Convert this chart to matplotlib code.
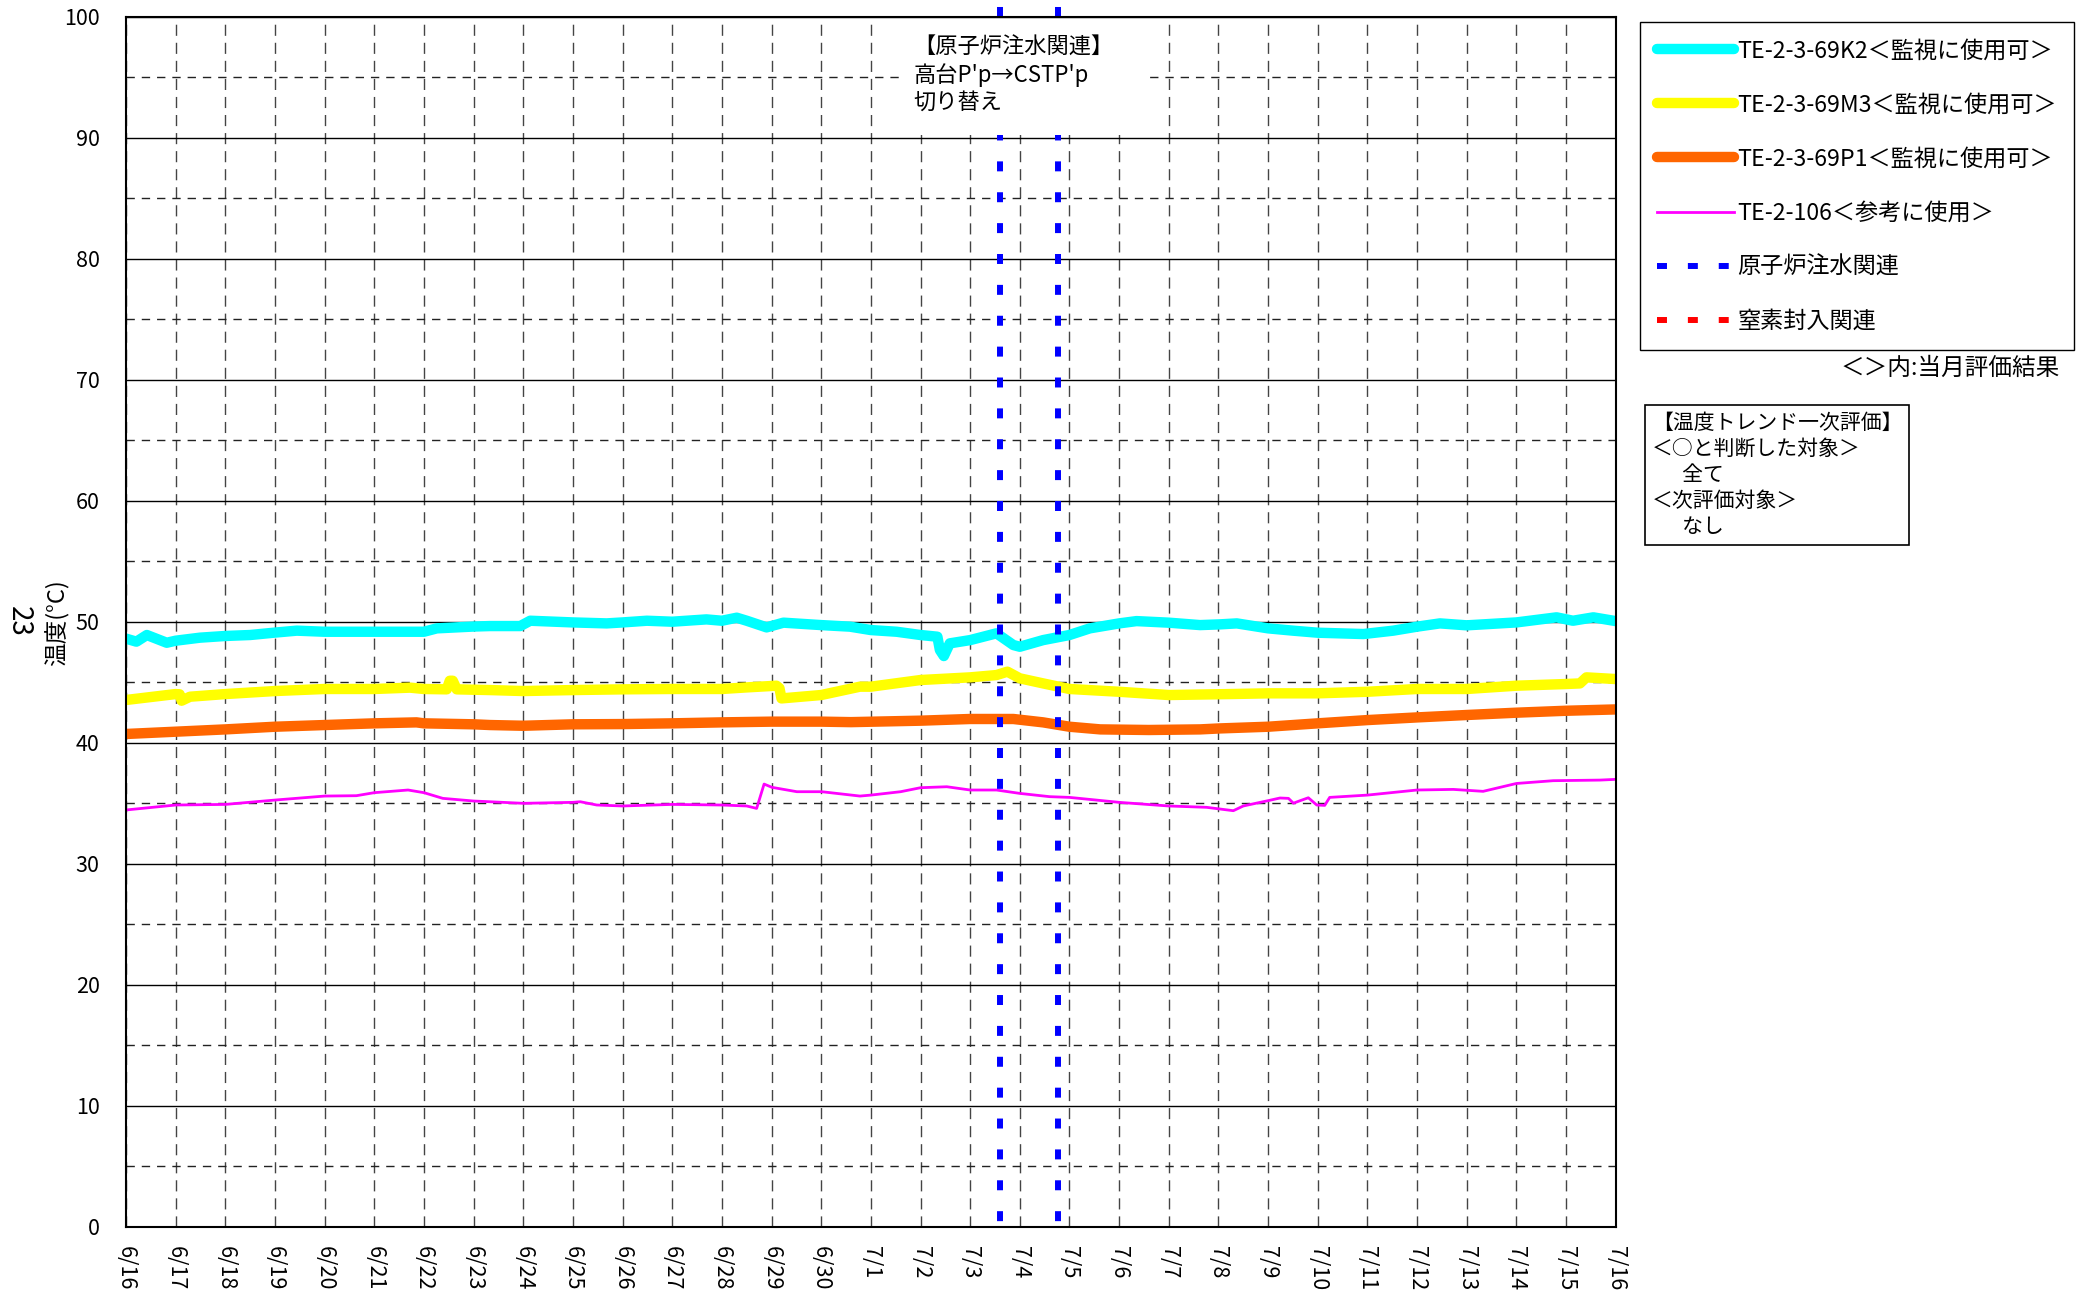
# -*- coding: utf-8 -*-

"""Temperature trend chart (TE-2-3-69K2 / M3 / P1, TE-2-106)."""

import matplotlib
matplotlib.use('Agg')
import matplotlib.pyplot as plt
from matplotlib.lines import Line2D
from matplotlib.patches import Rectangle
from matplotlib.ticker import MultipleLocator

plt.rcParams['font.family'] = ['Noto Sans CJK JP', 'DejaVu Sans']

# x values are days elapsed since 6/16 0:00
date_labels = ['6/16', '6/17', '6/18', '6/19', '6/20', '6/21', '6/22', '6/23',
               '6/24', '6/25', '6/26', '6/27', '6/28', '6/29', '6/30', '7/1',
               '7/2', '7/3', '7/4', '7/5', '7/6', '7/7', '7/8', '7/9', '7/10',
               '7/11', '7/12', '7/13', '7/14', '7/15', '7/16']

k2_days = [0, 0.21, 0.42, 0.82, 1.0, 1.49, 2.0, 2.5, 3.0, 3.44, 4.0, 5.0, 5.72,
           6.0, 6.26, 7.0, 7.33, 7.94, 8.14, 9.0, 9.68, 10.0, 10.49, 11.0,
           11.69, 12.0, 12.3, 12.5, 12.9, 13.24, 14.0, 14.58, 15.0, 15.52, 16.0,
           16.34, 16.39, 16.47, 16.59, 17.0, 17.53, 17.87, 18.0, 18.47, 19.0,
           19.41, 20.0, 20.35, 21.0, 21.63, 22.03, 22.37, 23.0, 23.5, 24.0,
           24.92, 25.52, 26.0, 26.46, 27.0, 28.0, 28.81, 29.14, 29.55, 30.0]
k2_temp = [48.6, 48.35, 48.9, 48.26, 48.43, 48.68, 48.82, 48.9, 49.1, 49.26,
           49.17, 49.17, 49.17, 49.17, 49.45, 49.6, 49.64, 49.64, 50.08, 49.94,
           49.86, 49.94, 50.08, 50.0, 50.19, 50.08, 50.33, 50.08, 49.53, 49.92,
           49.72, 49.59, 49.31, 49.17, 48.9, 48.76, 47.66, 47.16, 48.21, 48.48,
           49.04, 48.07, 47.93, 48.48, 48.9, 49.45, 49.86, 50.05, 49.92, 49.72,
           49.78, 49.86, 49.45, 49.26, 49.09, 48.98, 49.26, 49.59, 49.86, 49.7,
           49.94, 50.36, 50.08, 50.36, 50.05]

m3_days = [0, 1.0, 1.08, 1.12, 1.29, 2.0, 3.0, 4.0, 5.0, 5.72, 6.0, 6.46, 6.52,
           6.58, 6.66, 7.33, 8.0, 9.0, 10.0, 11.0, 12.0, 12.5, 13.1, 13.16,
           13.2, 14.0, 14.78, 15.0, 16.0, 17.0, 17.53, 17.75, 18.0, 18.47,
           19.0, 20.0, 21.0, 22.23, 23.0, 24.0, 25.0, 26.0, 27.0, 28.0, 29.0,
           29.28, 29.41, 30.0]
m3_temp = [43.53, 44.02, 44.0, 43.47, 43.8, 44.02, 44.27, 44.44, 44.44, 44.55,
           44.44, 44.41, 45.12, 45.12, 44.41, 44.35, 44.27, 44.35, 44.41,
           44.44, 44.44, 44.57, 44.71, 44.5, 43.66, 43.94, 44.63, 44.63, 45.18,
           45.4, 45.59, 45.87, 45.32, 44.9, 44.44, 44.21, 43.94, 44.02, 44.08,
           44.08, 44.21, 44.44, 44.44, 44.71, 44.85, 44.9, 45.4, 45.26]

p1_days = [0, 1, 2, 3, 4, 5, 5.85, 6, 7, 7.33, 8, 9, 10, 11, 12, 13, 14, 14.6,
           16, 17, 17.87, 18.47, 19, 19.62, 20.6, 21.63, 22.03, 23, 24, 25, 26,
           27, 28, 29, 30]
p1_temp = [40.72, 40.91, 41.1, 41.32, 41.46, 41.6, 41.68, 41.6, 41.52, 41.46,
           41.4, 41.52, 41.54, 41.6, 41.68, 41.74, 41.74, 41.7, 41.82, 41.96,
           41.96, 41.68, 41.32, 41.1, 41.05, 41.1, 41.18, 41.32, 41.6, 41.87,
           42.09, 42.29, 42.48, 42.64, 42.75]

te106_days = [0, 1, 2, 3, 4, 4.64, 5, 5.68, 6, 6.38, 7, 7.33, 8, 9, 9.15, 9.48,
              10, 11, 12, 12.5, 12.7, 12.85, 13.01, 13.51, 14.01, 14.78, 15.0,
              15.6, 16.0, 16.53, 17.0, 17.53, 18.0, 18.6, 19.0, 20.0, 21.0,
              21.76, 22.3, 22.5, 23.0, 23.24, 23.41, 23.51, 23.64, 23.81, 23.98,
              24.14, 24.24, 25.0, 26.0, 26.73, 27.33, 28.0, 28.74, 29.68, 30.0]
te106_temp = [34.44, 34.85, 34.9, 35.26, 35.59, 35.62, 35.87, 36.09, 35.87,
              35.4, 35.18, 35.12, 34.99, 35.07, 35.12, 34.85, 34.77, 34.9,
              34.85, 34.77, 34.57, 36.58, 36.31, 35.95, 35.95, 35.59, 35.67,
              35.95, 36.28, 36.36, 36.09, 36.09, 35.81, 35.54, 35.48, 35.07,
              34.77, 34.66, 34.38, 34.77, 35.21, 35.43, 35.4, 35.0, 35.2, 35.45,
              34.85, 34.82, 35.48, 35.67, 36.09, 36.14, 35.98, 36.63, 36.86,
              36.91, 36.97]

# reactor water injection events (days since 6/16)
injection_events = [17.6, 18.76]

series_labels = ['TE-2-3-69K2＜監視に使用可＞',
                 'TE-2-3-69M3＜監視に使用可＞',
                 'TE-2-3-69P1＜監視に使用可＞',
                 'TE-2-106＜参考に使用＞',
                 '原子炉注水関連',
                 '窒素封入関連']

event_note = "【原子炉注水関連】\n高台P'p→CSTP'p\n切り替え"
evaluation_note = ('【温度トレンド一次評価】\n＜○と判断した対象＞\n\u3000  全て\n'
                   '＜次評価対象＞\n\u3000  なし')

W, H = 2093, 1301
EVENT_DASH = (1.67, 3.5)


def plot_trend():
    """Draw the temperature trend chart."""
    fig = plt.figure(figsize=(W / 100, H / 100), dpi=100)
    ax = fig.add_axes([126 / W, (H - 1226.7) / H, 1489.7 / W, 1210 / H])

    ax.set_xlim(0, 30)
    ax.set_ylim(0, 100)

    ax.set_xticks(range(len(date_labels)))
    ax.set_xticklabels(date_labels, rotation=270, va='top', ha='center')
    ax.yaxis.set_major_locator(MultipleLocator(10))
    ax.yaxis.set_minor_locator(MultipleLocator(5))
    ax.tick_params(axis='y', which='both', length=0, pad=19, labelsize=15.5)
    ax.tick_params(axis='x', length=0, pad=14, labelsize=15.5)

    # grid
    ax.yaxis.grid(True, which='major', color='black', linewidth=1.0, zorder=1)
    ax.yaxis.grid(True, which='minor', color='#222222', linewidth=1.0,
                  linestyle=(0, (6, 5)), zorder=1)
    ax.xaxis.grid(True, which='major', color='#444444', linewidth=1.0,
                  linestyle=(0, (8, 5)), zorder=1)
    ax.set_axisbelow(True)
    for spine in ax.spines.values():
        spine.set_color('black')
        spine.set_linewidth(1.5)
        spine.set_zorder(6)

    lk2, = ax.plot(k2_days, k2_temp, color='#00FFFF', linewidth=7.5,
                   solid_capstyle='round', solid_joinstyle='round', zorder=3)
    lm3, = ax.plot(m3_days, m3_temp, color='#FFFF00', linewidth=7.5,
                   solid_capstyle='round', solid_joinstyle='round', zorder=3)
    lp1, = ax.plot(p1_days, p1_temp, color='#FF6600', linewidth=7.5,
                   solid_capstyle='round', solid_joinstyle='round', zorder=3)
    l106, = ax.plot(te106_days, te106_temp, color='#FF00FF', linewidth=2,
                    zorder=3)

    for day in injection_events:
        ax.axvline(day, ymin=1.0138, ymax=-0.0093, color='#0000FF',
                   linewidth=4.3, linestyle=(4.0, EVENT_DASH),
                   clip_on=False, zorder=4)

    # white note box hiding grid and event lines
    ax.add_patch(Rectangle((15.59, 90.2), 4.97, 9.5, facecolor='white',
                           edgecolor='none', zorder=5))
    ax.text(15.85, 95.2, event_note, fontsize=16, va='center', ha='left',
            linespacing=1.2, zorder=6)

    # legend
    blue_handle = Line2D([], [], color='#0000FF', linewidth=4.3,
                         dashes=EVENT_DASH)
    red_handle = Line2D([], [], color='#FF0000', linewidth=4.3,
                        dashes=EVENT_DASH)
    handles = [lk2, lm3, lp1, l106, blue_handle, red_handle]
    fig.legend(handles, series_labels, loc='upper left',
               bbox_to_anchor=(1640 / W, 1 - 22 / H),
               bbox_transform=fig.transFigure, fontsize=16.7, frameon=True,
               fancybox=False, framealpha=1, edgecolor='black',
               borderaxespad=0, borderpad=0.75, handlelength=3.3,
               handletextpad=0.15, labelspacing=1.34)

    fig.text(2060 / W, 1 - 368 / H, '＜＞内:当月評価結果', fontsize=17,
             ha='right', va='center')

    fig.text(1652 / W, 1 - 475 / H, evaluation_note, fontsize=15,
             ha='left', va='center', linespacing=1.25,
             bbox=dict(boxstyle='square,pad=0.33', facecolor='white',
                       edgecolor='black', linewidth=1.2))

    fig.text(57 / W, 1 - 623 / H, '温度(°C)', rotation=90, fontsize=17,
             ha='center', va='center')
    fig.text(19 / W, 1 - 621 / H, '23', rotation=270, fontsize=20,
             ha='center', va='center')

    fig.savefig('out.png', dpi=100)


plot_trend()
